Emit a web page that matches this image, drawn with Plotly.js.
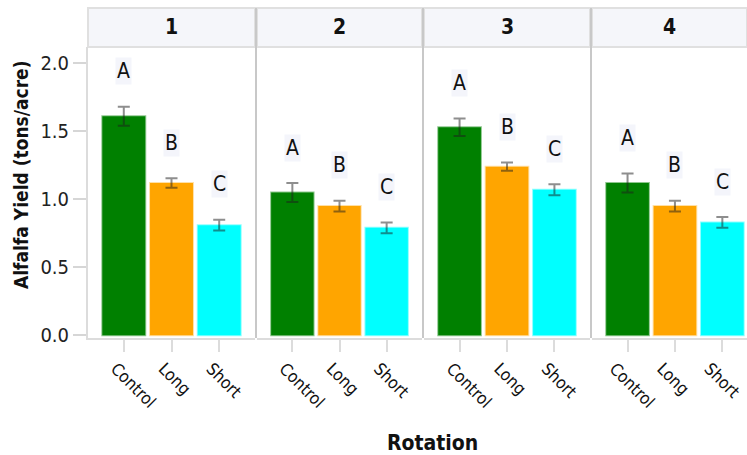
<!DOCTYPE html>
<html>
<head>
<meta charset="utf-8">
<script src="https://cdn.plot.ly/plotly-3.0.1.min.js"></script>
<style>html,body{margin:0;padding:0;background:#fff;}</style>
</head>
<body>
<div id="chart" style="width:747px;height:455px;"></div>
<script>
const categories = ['Control', 'Long', 'Short'];
const rotations = ['1', '2', '3', '4'];
const controlYield = [1.61, 1.05, 1.53, 1.12];
const longYield = [1.12, 0.95, 1.24, 0.95];
const shortYield = [0.81, 0.79, 1.07, 0.83];
const controlErr = [0.07, 0.07, 0.065, 0.07];
const longErr = [0.035, 0.04, 0.03, 0.04];
const shortErr = [0.04, 0.04, 0.04, 0.04];
const letters = ['A', 'B', 'C'];

const colors = ['#008000', '#FFA500', '#00FFFF'];
const lineColors = ['rgba(0,128,0,0.45)', 'rgba(255,165,0,0.35)', 'rgba(0,255,255,0.45)'];
const FONT = '"DejaVu Sans Condensed", "Liberation Sans Narrow", sans-serif';

// panel pixel domains within plot area (left=88, width=659)
const L = 88, W = 659, TOP = 47, H = 291;
const panelPx = [[88, 255], [257, 422], [424, 590], [592, 747]];
const domains = panelPx.map(p => [(p[0] - L) / W, (p[1] - L) / W]);
const ranges = [[-0.75, 2.75], [-0.75, 2.75], [-0.75, 2.75], [-0.75, 2.52]];
const labelShift = [-8, -8, -8, -13];

const traces = [];
const annotations = [];
const shapes = [];
const layout = {
  width: 747, height: 455,
  margin: {l: 88, r: 0, t: 47, b: 117},
  paper_bgcolor: '#ffffff', plot_bgcolor: '#ffffff',
  showlegend: false,
  font: {family: FONT, color: '#111'},
  bargap: 0,
  yaxis: {
    range: [-0.02, 2.12],
    tickvals: [0, 0.5, 1, 1.5, 2],
    tickformat: '.1f',
    ticks: 'outside', ticklen: 13, tickwidth: 2, tickcolor: '#d6d6d6',
    showgrid: false, zeroline: false,
    showline: true, linecolor: '#dcdcdc', linewidth: 2,
    tickfont: {family: FONT, size: 20, color: '#222'}
  }
};

for (let i = 0; i < rotations.length; i++) {
  const xa = i === 0 ? 'x' : 'x' + (i + 1);
  const key = i === 0 ? 'xaxis' : 'xaxis' + (i + 1);
  const vals = [controlYield[i], longYield[i], shortYield[i]];
  const errs = [controlErr[i], longErr[i], shortErr[i]];
  traces.push({
    type: 'bar', x: categories, y: vals, xaxis: xa, yaxis: 'y',
    width: 0.9,
    marker: {color: colors, line: {color: lineColors, width: 2}},
    error_y: {type: 'data', array: errs, visible: true, color: 'rgba(30,30,30,0.5)', thickness: 2, width: 6},
    hoverinfo: 'x+y'
  });
  layout[key] = {
    domain: domains[i], anchor: 'y',
    type: 'category', range: ranges[i],
    ticks: 'outside', ticklen: 12, tickwidth: 2, tickcolor: '#dcdcdc',
    tickangle: 45, ticklabelshift: labelShift[i],
    showgrid: false, zeroline: false,
    showline: true, linecolor: '#dcdcdc', linewidth: 2,
    tickfont: {family: FONT, size: 17, color: '#111'}
  };
  for (let j = 0; j < categories.length; j++) {
    annotations.push({
      xref: xa, yref: 'y', x: categories[j], y: vals[j] + errs[j] + 0.26,
      text: letters[j], showarrow: false, bgcolor: '#f4f5fb',
      font: {family: FONT, size: 21, color: '#111'}
    });
  }
  // strip header
  shapes.push({type: 'rect', xref: 'paper', yref: 'paper', x0: domains[i][0], x1: domains[i][1], y0: 1.0, y1: 1 + (TOP - 8) / H,
    fillcolor: '#f5f6fa', line: {color: '#e0e0e0', width: 2}, layer: 'below'});
  annotations.push({
    xref: 'paper', yref: 'paper', x: (domains[i][0] + domains[i][1]) / 2, y: 1 + (TOP - 27) / H,
    xanchor: 'center', yanchor: 'middle', text: rotations[i], showarrow: false,
    font: {family: FONT, size: 21, weight: 'bold', color: '#111'}
  });
}
// panel separators
[256, 423, 591].forEach(px => {
  const xp = (px - L) / W;
  shapes.push({type: 'line', xref: 'paper', yref: 'paper', x0: xp, x1: xp, y0: 0, y1: 1 + (TOP - 8) / H,
    line: {color: '#c8c8c8', width: 2}});
});
// axis titles
annotations.push({
  xref: 'paper', yref: 'paper', x: (432 - L) / W, y: (TOP + H - 443) / H, xanchor: 'center', yanchor: 'middle',
  text: 'Rotation', showarrow: false, font: {family: FONT, size: 21, weight: 'bold', color: '#111'}
});
annotations.push({
  xref: 'paper', yref: 'paper', x: (21 - L) / W, y: (TOP + H - 175) / H, xanchor: 'center', yanchor: 'middle',
  text: 'Alfalfa Yield (tons/acre)', textangle: -90, showarrow: false,
  font: {family: FONT, size: 19, weight: 'bold', color: '#111'}
});
layout.annotations = annotations;
layout.shapes = shapes;

Plotly.newPlot('chart', traces, layout, {displayModeBar: false, staticPlot: true});
</script>
</body>
</html>
